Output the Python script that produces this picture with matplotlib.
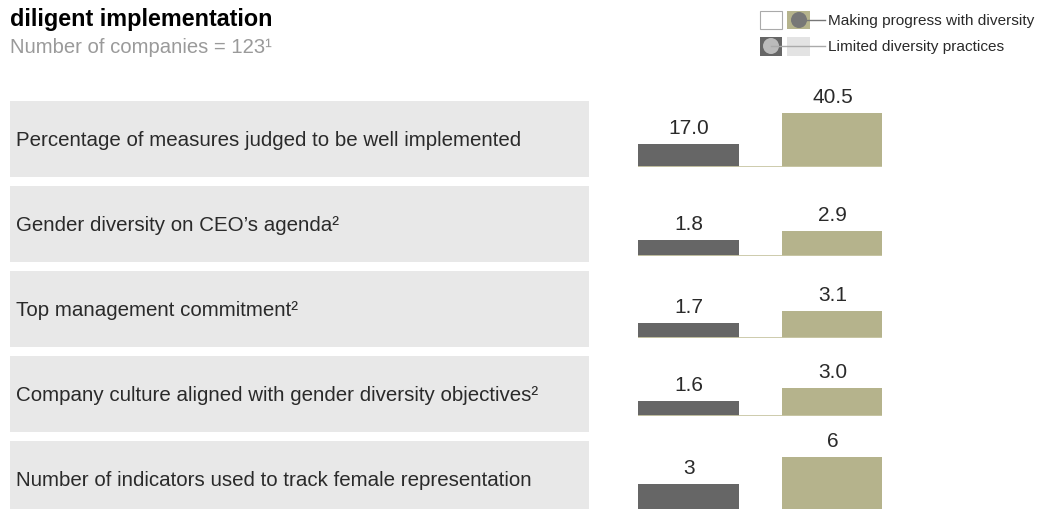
import matplotlib
matplotlib.use("Agg")
import matplotlib.pyplot as plt
from matplotlib.patches import Rectangle, Circle
from matplotlib.lines import Line2D

plt.rcParams['font.family'] = ['Liberation Sans', 'DejaVu Sans']

# ---- data ----
categories = [
    "Percentage of measures judged to be well implemented",
    "Gender diversity on CEO\u2019s agenda\u00b2",
    "Top management commitment\u00b2",
    "Company culture aligned with gender diversity objectives\u00b2",
    "Number of indicators used to track female representation",
]
limited = [17.0, 1.8, 1.7, 1.6, 3]
progress = [40.5, 2.9, 3.1, 3.0, 6]
limited_labels = ["17.0", "1.8", "1.7", "1.6", "3"]
progress_labels = ["40.5", "2.9", "3.1", "3.0", "6"]
series_names = ["Making progress with diversity", "Limited diversity practices"]
title = "diligent implementation"
subtitle = "Number of companies = 123\u00b9"

# ---- style / layout ----
W, H = 1040, 510
DARK = "#666666"
OLIVE = "#b5b38c"
BOX = "#e8e8e8"
BASE = "#c9c7a6"
TXT = "#2a2a2a"

fig = plt.figure(figsize=(W / 100, H / 100), dpi=100)
fig.patch.set_facecolor("white")


def fx(px):
    return px / W


def fy(py):
    return 1 - py / H


# background axes in pixel coordinates
bg = fig.add_axes([0, 0, 1, 1])
bg.set_xlim(0, W)
bg.set_ylim(H, 0)
bg.axis("off")

bg.text(10, 26, title, fontsize=16.8, fontweight="bold", color="black",
        va="baseline", ha="left")
bg.text(10, 53, subtitle, fontsize=14.6, color="#9a9a9a", va="baseline", ha="left")

box_tops = [102, 187, 272, 357, 442]
box_h = 76
for top, cat in zip(box_tops, categories):
    bg.add_patch(Rectangle((10, top), 579, box_h, facecolor=BOX, edgecolor="none"))
    bg.text(16, top + box_h / 2 + 1, cat, fontsize=14.8, color=TXT, va="center", ha="left")

# legend (drawn as decorations)
bg.add_patch(Rectangle((760, 12), 22, 18, facecolor="white", edgecolor="#aaaaaa", lw=0.8))
bg.add_patch(Rectangle((787, 12), 23, 18, facecolor=OLIVE, edgecolor="none"))
bg.add_line(Line2D([799, 825], [21, 21], color="#777777", lw=1.0))
bg.add_patch(Circle((799, 21), 8, facecolor="#777777", edgecolor="none"))
bg.text(828, 21, series_names[0], fontsize=11.1, color=TXT, va="center", ha="left")

bg.add_patch(Rectangle((760, 38), 22, 19, facecolor=DARK, edgecolor="none"))
bg.add_patch(Rectangle((787, 38), 23, 19, facecolor="#e3e3e3", edgecolor="none"))
bg.add_line(Line2D([771, 825], [47, 47], color="#aaaaaa", lw=1.0))
bg.add_patch(Circle((771, 47), 8, facecolor="#bbbbbb", edgecolor="none"))
bg.text(828, 47, series_names[1], fontsize=11.1, color=TXT, va="center", ha="left")

# bar rows
baselines = [168, 257, 339, 417, 512]
tallest_px = [54, 25, 27, 28, 54]
ax_h = 80
left_px, right_px = 638, 882
pitch = 143.5
bw = 101 / pitch
for i in range(len(categories)):
    ax = fig.add_axes([fx(left_px), fy(baselines[i]), fx(right_px - left_px), ax_h / H])
    ax.patch.set_alpha(0)
    vmax = max(limited[i], progress[i])
    ax.set_ylim(0, vmax * ax_h / tallest_px[i])
    ax.set_xlim(-bw / 2, 1 + bw / 2 - (1 - 100 / 101) * bw)
    ax.bar([0], [limited[i]], width=bw, color=DARK, zorder=2)
    ax.bar([1], [progress[i]], width=100 / pitch, color=OLIVE, zorder=2)
    ax.axhline(0, color=BASE, lw=1.3, zorder=3)
    ax.annotate(limited_labels[i], (0, limited[i]), xytext=(0, 7),
                textcoords="offset pixels", ha="center", va="bottom",
                fontsize=15, color=TXT)
    ax.annotate(progress_labels[i], (1, progress[i]), xytext=(0, 7),
                textcoords="offset pixels", ha="center", va="bottom",
                fontsize=15, color=TXT)
    ax.axis("off")

fig.savefig("out.png", dpi=100, facecolor="white")
